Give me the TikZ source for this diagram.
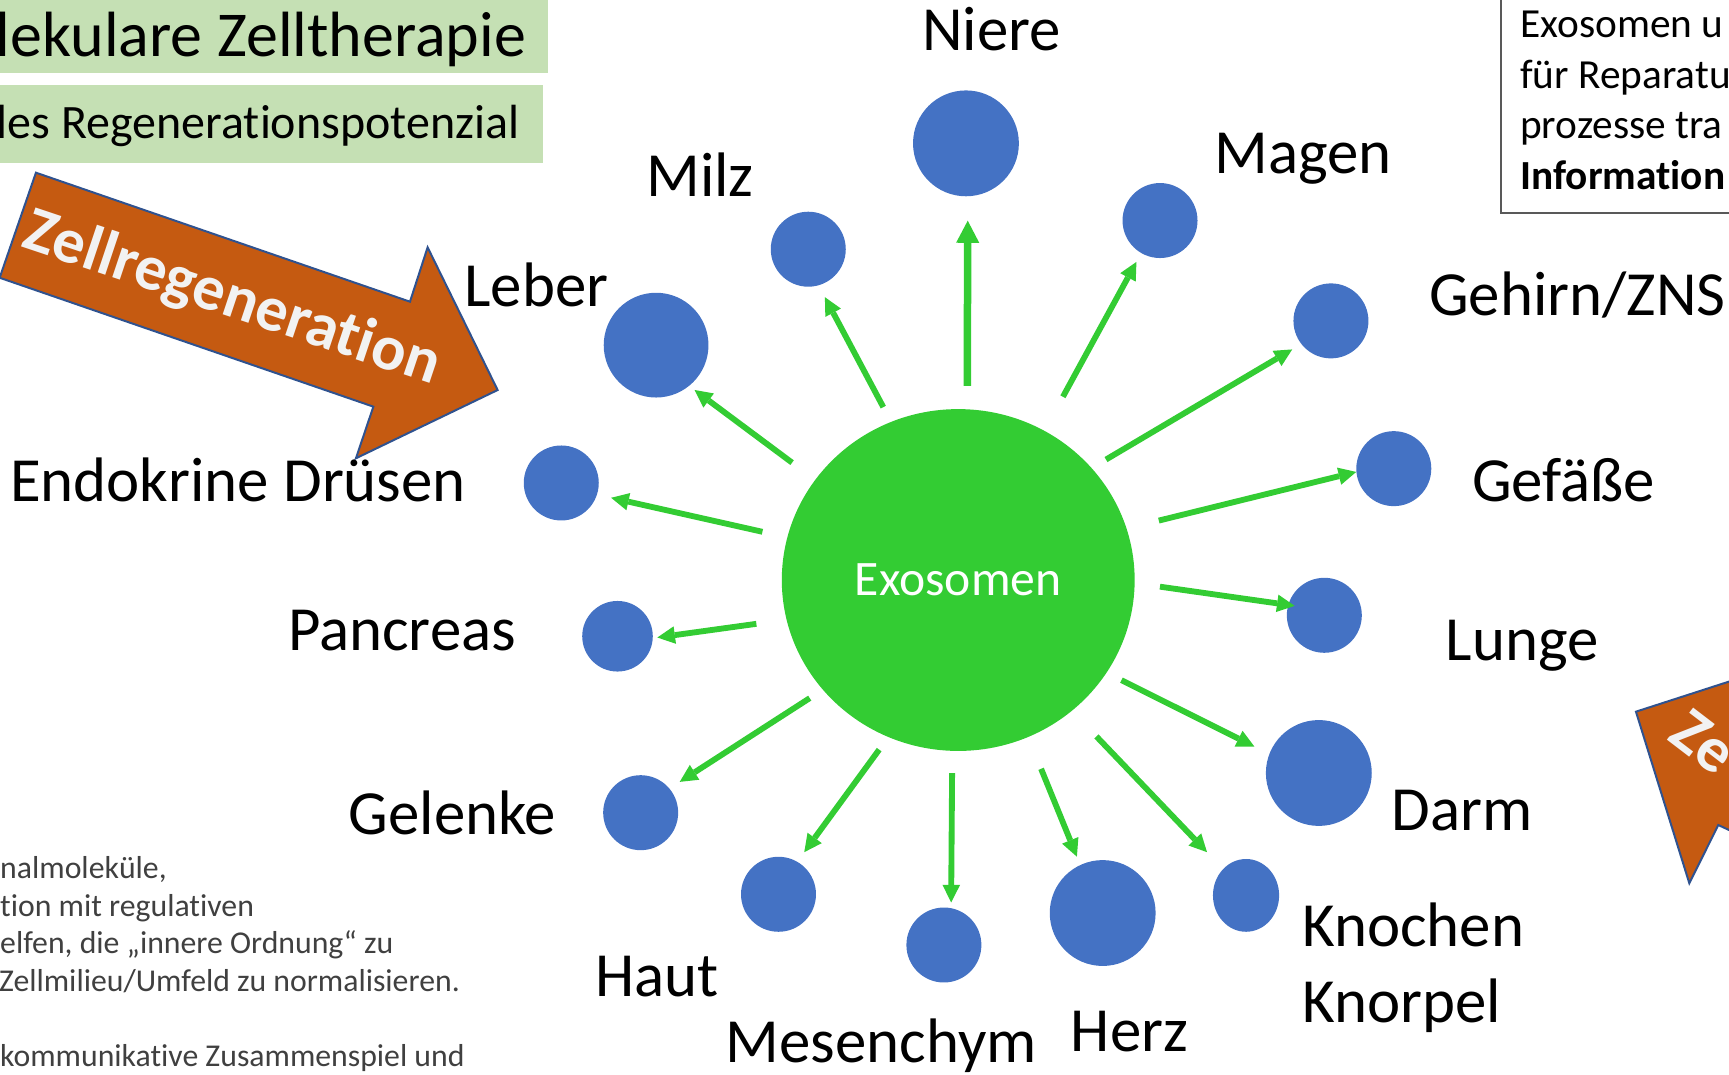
\documentclass[tikz,border=0pt]{standalone}
\usepackage{fontspec}
\setmainfont{Carlito}[Ligatures=NoCommon]
\usetikzlibrary{arrows.meta,shapes.geometric}
\definecolor{exgreen}{RGB}{51,204,51}
\definecolor{orgblue}{RGB}{68,114,196}
\definecolor{regorange}{RGB}{197,90,17}
\definecolor{regedge}{RGB}{47,82,143}
\definecolor{boxgreen}{RGB}{197,224,180}
\definecolor{txtgrey}{RGB}{64,64,64}
\definecolor{framegrey}{RGB}{89,89,89}
\definecolor{offwhite}{RGB}{242,242,242}
\begin{document}
\begin{tikzpicture}[x=1pt,y=-1pt,
  organ/.style={ellipse,fill=orgblue,inner sep=0pt,minimum width=#1,minimum height=#1},
  lbl/.style={anchor=base west,inner sep=0pt,font=\fontsize{57}{68}\selectfont},
  flow/.style={exgreen,line width=5.3pt,-{Triangle[length=16pt,width=16pt,line width=0pt]}},
  bigflow/.style={exgreen,line width=6.8pt,-{Triangle[length=20pt,width=21pt,line width=0pt]}},
  regarrow/.style={fill=regorange,draw=regedge,line width=1.8pt,line join=miter},
  regtext/.style={inner sep=0pt,text=offwhite,font=\bfseries\fontsize{58}{70}\selectfont},
  note/.style={anchor=base west,inner sep=0pt,text=txtgrey,font=\fontsize{28.8}{34}\selectfont},
  info/.style={anchor=base west,inner sep=0pt,font=\fontsize{37.5}{46}\selectfont},
]
\useasboundingbox (0,0) rectangle (1568,974);
\clip (0,0) rectangle (1568,974);

% title boxes
\fill[boxgreen] (-5,-5) rectangle (497,66.5);
\fill[boxgreen] (-5,77) rectangle (492,147.5);
\node[anchor=base west,inner sep=0pt,font=\fontsize{58}{70}\selectfont] (title1) at (-4,51.4) {lekulare Zelltherapie};
\node[anchor=base west,inner sep=0pt,font=\fontsize{43.5}{52}\selectfont] (title2) at (-3,126) {les Regenerationspotenzial};

% info box top right
\draw[framegrey,line width=1.8pt] (1361,-10) rectangle (1600,193);
\node[info] (i1) at (1378.5,34) {Exosomen u};
\node[info] (i2) at (1378.5,80) {für Reparatu};
\node[info] (i3) at (1378.5,126) {prozesse tra};
\node[info,font=\bfseries\fontsize{37.5}{46}\selectfont] (i4) at (1378.5,172) {Information};

% notes bottom left
\node[note] (n1) at (0,797) {nalmoleküle,};
\node[note] (n2) at (0,831) {tion mit regulativen};
\node[note] (n3) at (0,865) {elfen, die „innere Ordnung“ zu};
\node[note] (n4) at (-1,899) {Zellmilieu/Umfeld zu normalisieren.};
\node[note] (n5) at (0,967) {kommunikative Zusammenspiel und};

% orange arrows
\draw[regarrow] (32.6,156.6) -- (371.8,273.6) -- (387.8,224.3) -- (451.3,353.7) -- (322.8,415.6) -- (338.6,368.8) -- (-0.3,251.9) -- cycle;
\node[regtext,rotate=-18.5] (zr) at (210.6,271.8) {Zellregeneration};
\draw[regarrow] (1483.6,645.4) -- (1532,801) -- (1558.3,748.2) -- (1590,763) -- (1590,611) -- cycle;
\node[regtext,rotate=-37.4] (ze) at (1544.9,672.6) {Ze};

% center
\node[ellipse,fill=exgreen,minimum width=320pt,minimum height=310pt,inner sep=0pt,text=white,font=\fontsize{45}{54}\selectfont] (ex) at (869,526) {Exosomen};

% organs
\node[organ=96pt] (niere) at (876,130) {};
\node[organ=68pt] (milz) at (733,226) {};
\node[organ=95pt] (leber) at (595,313) {};
\node[organ=68pt] (endo) at (509,438) {};
\node[organ=64pt] (panc) at (560,577) {};
\node[organ=68pt] (gel) at (581,737) {};
\node[organ=68pt] (haut) at (706,811) {};
\node[organ=68pt] (mes) at (856,857) {};
\node[organ=96pt] (herz) at (1000,828) {};
\node[organ=60pt,minimum height=66pt] (kno) at (1130,812) {};
\node[organ=96pt] (darm) at (1196,701) {};
\node[organ=68pt] (lunge) at (1201,558) {};
\node[organ=68pt] (gef) at (1264,425) {};
\node[organ=68pt] (geh) at (1207,291) {};
\node[organ=68pt] (magen) at (1052,200) {};

% arrows
\draw[bigflow,shorten <=21pt,shorten >=22pt] (ex.87) -- (niere.-88);
\draw[flow,shorten <=15pt,shorten >=12pt] (ex.113) -- (milz.-74);
\draw[flow,shorten <=26pt,shorten >=6pt] (ex.145) -- (leber.-51);
\draw[flow,shorten <=23pt,shorten >=13pt] (ex.166) -- (endo.-18);
\draw[flow,shorten <=27.5pt,shorten >=4pt] (ex.193) -- (panc.-3);
\draw[flow,shorten <=14pt,shorten >=11pt] (ex.219) -- (gel.40);
\draw[flow,shorten <=14pt,shorten >=10.6pt] (ex.246) -- (haut.60);
\draw[flow,shorten <=20pt,shorten >=5pt] (ex.268) -- (mes.79);
\draw[flow,shorten <=31pt,shorten >=8pt] (ex.294) -- (herz.115);
\draw[flow,shorten <=32pt,shorten >=21pt] (ex.311) -- (kno.131);
\draw[flow,shorten <=15pt,shorten >=15pt] (ex.328) -- (darm.159);
\draw[flow,shorten <=23pt,shorten >=-6pt] (ex.-1) -- (lunge.164);
\draw[flow,shorten <=30pt,shorten >=0pt] (ex.17) -- (gef.185);
\draw[flow,shorten <=15pt,shorten >=9.5pt] (ex.40) -- (geh.-142);
\draw[flow,shorten <=35pt,shorten >=9pt] (ex.60) -- (magen.-120);

% labels
\node[lbl] (t-niere) at (836,46) {Niere};
\node[lbl] (t-milz) at (586,178) {Milz};
\node[lbl] (t-leber) at (421,278) {Leber};
\node[lbl] (t-endo) at (9,455) {Endokrine Drüsen};
\node[lbl] (t-panc) at (261,590) {Pancreas};
\node[lbl] (t-gel) at (316,757) {Gelenke};
\node[lbl] (t-haut) at (540,904) {Haut};
\node[lbl] (t-mes) at (658,964) {Mesenchym};
\node[lbl] (t-herz) at (971,954) {Herz};
\node[lbl] (t-kno) at (1181,858) {Knochen};
\node[lbl] (t-knp) at (1181,927) {Knorpel};
\node[lbl] (t-darm) at (1262,753) {Darm};
\node[lbl] (t-lunge) at (1311,599) {Lunge};
\node[lbl] (t-gef) at (1335,455) {Gefäße};
\node[lbl] (t-geh) at (1296,286) {Gehirn/ZNS};
\node[lbl] (t-magen) at (1101,157) {Magen};
\end{tikzpicture}
\end{document}
